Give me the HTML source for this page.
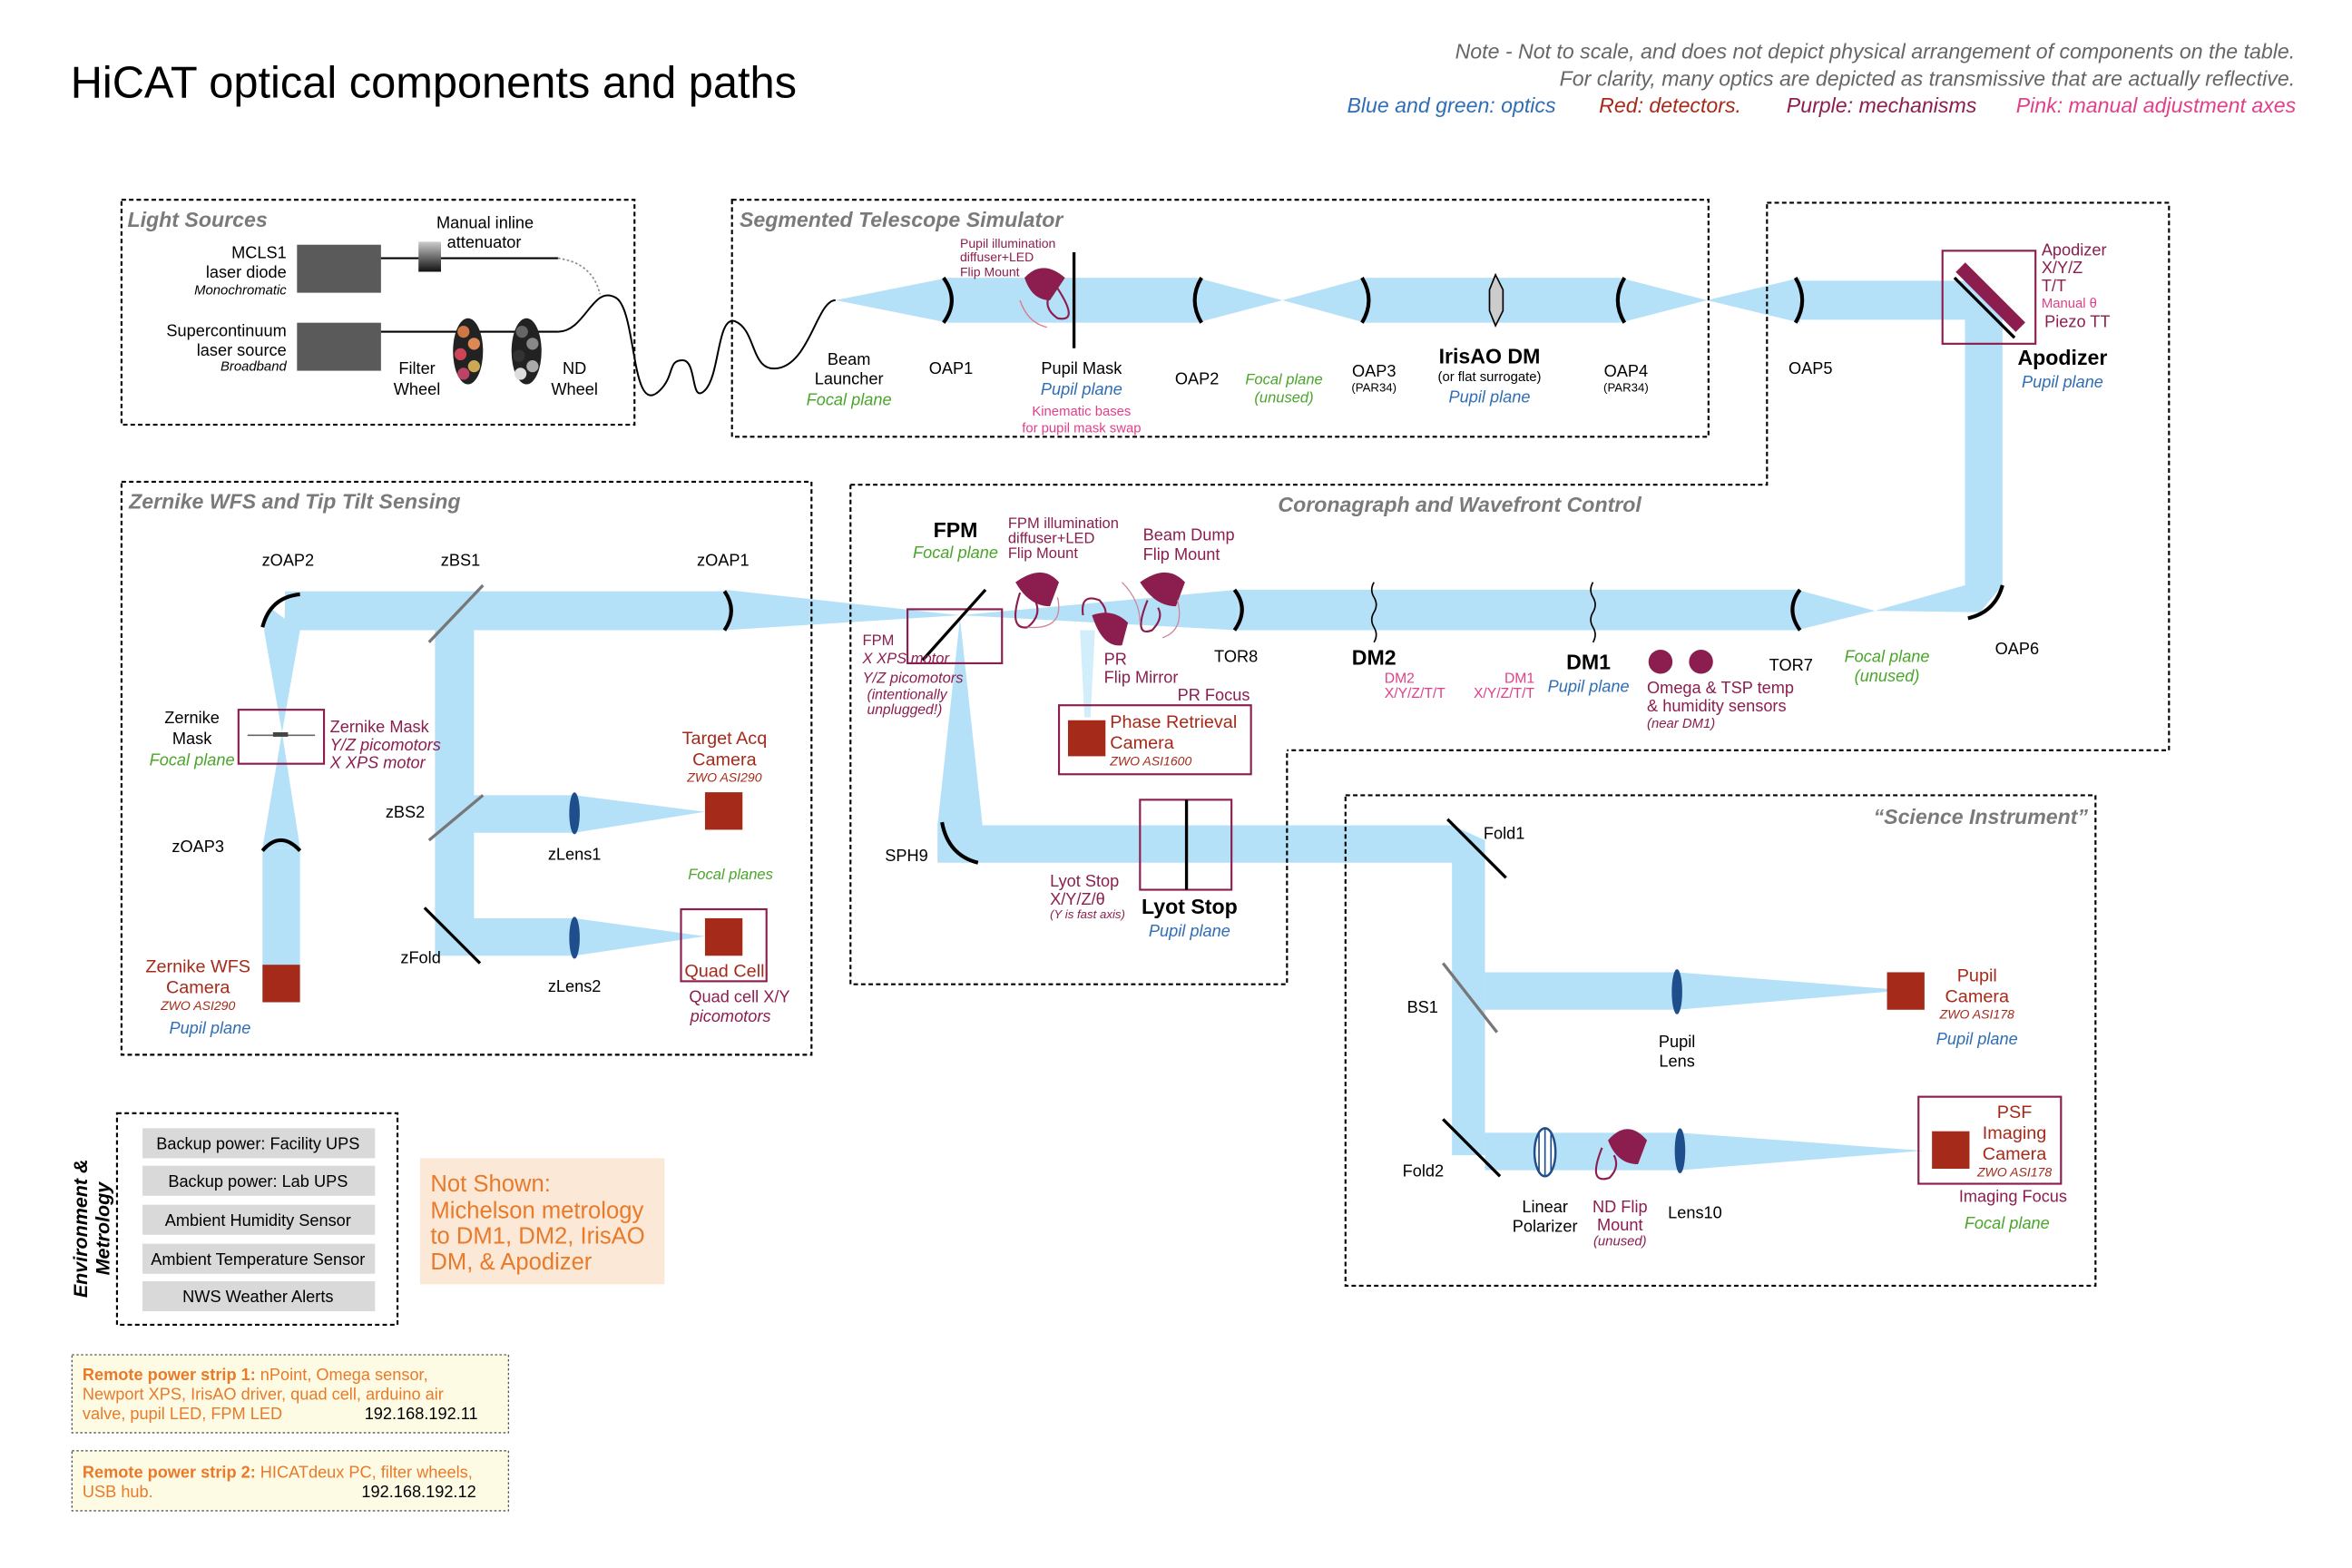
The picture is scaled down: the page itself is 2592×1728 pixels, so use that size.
<!DOCTYPE html>
<html><head><meta charset="utf-8"><style>
html,body{margin:0;padding:0;background:#fff}
svg{display:block}
text{font-family:"Liberation Sans",sans-serif;font-size:11px;fill:#000}
.it{font-style:italic}
.sec{font-style:italic;font-weight:bold;font-size:14px;fill:#7a7a7a}
.pu{fill:#8b1e4f}.rd{fill:#a52a1a}.bl{fill:#2f6db5;font-style:italic}.gr{fill:#4aa52a;font-style:italic}.pk{fill:#e0408a}
.b{font-weight:bold;font-size:14px}
.box{fill:none;stroke:#000;stroke-width:1.3;stroke-dasharray:3 2}
.beam{fill:#b5e1f8}
.m{fill:none;stroke:#000;stroke-width:2.5}
.fr{fill:none;stroke:#8b1e4f;stroke-width:1.3}
</style></head><body>
<svg width="2592" height="1728" viewBox="0 0 1568 1045" xmlns="http://www.w3.org/2000/svg">
<text x="47" y="65" style="font-size:29.5px">HiCAT optical components and paths</text>
<text x="1530" y="39" text-anchor="end" class="it" style="font-size:14px;fill:#666">Note - Not to scale, and does not depict physical arrangement of components on the table.</text>
<text x="1530" y="57" text-anchor="end" class="it" style="font-size:14px;fill:#666">For clarity, many optics are depicted as transmissive that are actually reflective.</text>
<text x="898" y="75" class="it" style="font-size:14px;fill:#2f6db5">Blue and green: optics</text>
<text x="1066" y="75" class="it" style="font-size:14px;fill:#a52a1a">Red: detectors.</text>
<text x="1191" y="75" class="it" style="font-size:14px;fill:#8b1e4f">Purple: mechanisms</text>
<text x="1344" y="75" class="it" style="font-size:14px;fill:#e0408a">Pink:  manual adjustment axes</text>

<g class="beam">
<polygon points="557,200 632,185 632,215"/>
<polygon points="632,185 798,185 798,215 632,215"/>
<polygon points="798,185 855,200 798,215"/>
<polygon points="855,200 910,185 910,215"/>
<polygon points="910,185 1080,185 1080,215 910,215"/>
<polygon points="1080,185 1138,200 1080,215"/>
<polygon points="1138,200 1200,185 1200,215"/>
<polygon points="1200,187 1322,187 1335,200 1335,390 1310,390 1310,213 1200,213"/>
<polygon points="1335,390 1320,408 1250,407 1310,390"/>
<polygon points="1250,407 1198,393 1198,420"/>
<polygon points="1198,393 825,393 825,420 1198,420"/>
<polygon points="825,393 640,410 825,420"/>
<polygon points="640,410 483,393 483,420"/>
<polygon points="483,394 190,394 190,420 483,420"/>
<polygon points="190,400 200,420 188,488"/>
<polygon points="180,405 200,420 188,488 176,420"/>
<polygon points="188,488 175,565 200,565"/>
<polygon points="175,565 200,565 200,645 175,645"/>
<polygon points="290,410 316,410 316,530 383,530 383,555 316,555 316,612 383,612 383,637 290,637"/>
<polygon points="383,530 470,541 383,555"/>
<polygon points="383,612 470,624 383,637"/>
<polygon points="640,412 655,550 625,550"/>
<polygon points="625,550 968,550 990,560 990,770 968,770 968,575 625,575"/>
<polygon points="990,648 1118,648 1118,673 990,673"/>
<polygon points="1118,648 1270,660 1118,673"/>
<polygon points="990,755 1120,755 1120,780 990,780"/>
<polygon points="1120,755 1282,767 1120,780"/>
<polygon points="720,420 730,420 727,478 723,478" style="fill:#d3eefb"/>
</g>

<rect class="box" x="81" y="133" width="342" height="150"/>
<text x="85" y="151" class="sec">Light Sources</text>
<rect class="box" x="488" y="133" width="651" height="158"/>
<text x="493" y="151" class="sec">Segmented Telescope Simulator</text>
<path class="box" d="M1178,135 H1446 V500 H858 V500 M567,323 H1178 V135"/>
<path class="box" d="M567,323 V656 H858 V500"/>
<text x="852" y="341" class="sec">Coronagraph and Wavefront Control</text>
<rect class="box" x="81" y="321" width="460" height="382"/>
<text x="86" y="339" class="sec">Zernike WFS and Tip Tilt Sensing</text>
<rect class="box" x="897" y="530" width="500" height="327"/>
<text x="1392" y="549" text-anchor="end" class="sec">“Science Instrument”</text>
<rect class="box" x="78" y="742" width="187" height="141"/>

<rect x="198" y="163" width="56" height="32" fill="#5a5a5a"/>
<rect x="198" y="215" width="56" height="32" fill="#5a5a5a"/>
<line x1="254" y1="172" x2="372" y2="172" stroke="#000" stroke-width="1.3"/>
<defs><linearGradient id="g1" x1="0" y1="0" x2="0" y2="1"><stop offset="0" stop-color="#ccc"/><stop offset="1" stop-color="#111"/></linearGradient></defs>
<rect x="279" y="161" width="15" height="20" fill="url(#g1)"/>
<path d="M372,172 Q395,175 400,196" fill="none" stroke="#888" stroke-dasharray="1.5 1.5"/>
<line x1="254" y1="221" x2="372" y2="221" stroke="#000" stroke-width="1.3"/>
<path d="M372,221 C390,221 395,190 410,198 C425,205 420,280 440,260 C450,250 445,240 455,240 C465,240 460,270 470,260 C480,250 478,210 490,214 C505,220 500,250 520,245 C540,240 545,200 557,200" fill="none" stroke="#000" stroke-width="1.2"/>
<ellipse cx="312" cy="234" rx="10" ry="22" fill="#222"/>
<circle cx="309" cy="221" r="4" fill="#c74"/><circle cx="316" cy="229" r="4" fill="#d85"/><circle cx="307" cy="236" r="4" fill="#c45"/><circle cx="316" cy="244" r="4" fill="#ca5"/><circle cx="309" cy="249" r="4" fill="#b46"/>
<ellipse cx="351" cy="234" rx="10" ry="22" fill="#222"/>
<circle cx="348" cy="221" r="4" fill="#666"/><circle cx="355" cy="229" r="4" fill="#888"/><circle cx="346" cy="237" r="4" fill="#333"/><circle cx="355" cy="244" r="4" fill="#aaa"/><circle cx="347" cy="249" r="4" fill="#ddd"/>
<text x="191" y="172" text-anchor="end">MCLS1</text><text x="191" y="185" text-anchor="end">laser diode</text><text x="191" y="196" text-anchor="end" class="it" style="font-size:9px">Monochromatic</text>
<text x="191" y="224" text-anchor="end">Supercontinuum</text><text x="191" y="237" text-anchor="end">laser source</text><text x="191" y="247" text-anchor="end" class="it" style="font-size:9px">Broadband</text>
<text x="291" y="152">Manual inline</text><text x="298" y="165">attenuator</text>
<text x="278" y="249" text-anchor="middle">Filter</text><text x="278" y="263" text-anchor="middle">Wheel</text>
<text x="383" y="249" text-anchor="middle">ND</text><text x="383" y="263" text-anchor="middle">Wheel</text>

<path class="m" d="M629,185 Q640,200 629,215"/>
<path class="m" d="M801,185 Q792,200 801,215"/>
<path class="m" d="M908,185 Q917,200 908,215"/>
<path class="m" d="M1083,185 Q1074,200 1083,215"/>
<path class="m" d="M1197,185 Q1206,200 1197,215"/>
<line x1="716" y1="168" x2="716" y2="232" stroke="#000" stroke-width="2"/>
<polygon points="997,183 1002,193 1002,207 997,217 993,207 993,193" fill="#ccc" stroke="#000"/>
<path d="M683,185 Q695,172 710,185 L700,200 Q688,200 683,185 Z" fill="#8b1e4f"/>
<path class="fr" d="M705,192 Q720,215 705,212 Q695,205 700,196"/>
<path d="M680,200 Q685,215 698,218" fill="none" stroke="#d78" stroke-width="0.8"/>
<text x="566" y="243" text-anchor="middle">Beam</text><text x="566" y="256" text-anchor="middle">Launcher</text><text x="566" y="270" text-anchor="middle" class="gr">Focal plane</text>
<text x="634" y="249" text-anchor="middle">OAP1</text>
<text x="640" y="165" class="pu" style="font-size:8.5px">Pupil illumination</text><text x="640" y="174" class="pu" style="font-size:8.5px">diffuser+LED</text><text x="640" y="184" class="pu" style="font-size:8.5px">Flip Mount</text>
<text x="721" y="249" text-anchor="middle">Pupil Mask</text><text x="721" y="263" text-anchor="middle" class="bl">Pupil plane</text>
<text x="721" y="277" text-anchor="middle" class="pk" style="font-size:9px">Kinematic bases</text><text x="721" y="288" text-anchor="middle" class="pk" style="font-size:9px">for pupil mask swap</text>
<text x="798" y="256" text-anchor="middle">OAP2</text>
<text x="856" y="256" text-anchor="middle" class="gr" style="font-size:10px">Focal plane</text><text x="856" y="268" text-anchor="middle" class="gr" style="font-size:10px">(unused)</text>
<text x="916" y="251" text-anchor="middle">OAP3</text><text x="916" y="261" text-anchor="middle" style="font-size:8px">(PAR34)</text>
<text x="993" y="242" text-anchor="middle" class="b">IrisAO DM</text><text x="993" y="254" text-anchor="middle" style="font-size:9px">(or flat surrogate)</text><text x="993" y="268" text-anchor="middle" class="bl">Pupil plane</text>
<text x="1084" y="251" text-anchor="middle">OAP4</text><text x="1084" y="261" text-anchor="middle" style="font-size:8px">(PAR34)</text>
<text x="1207" y="249" text-anchor="middle">OAP5</text>

<rect x="1295" y="167" width="62" height="62" fill="none" stroke="#8b1e4f" stroke-width="1.3"/>
<line x1="1307" y1="178" x2="1347" y2="218" stroke="#8b1e4f" stroke-width="9"/>
<line x1="1303" y1="185" x2="1343" y2="225" stroke="#000" stroke-width="2"/>
<text x="1361" y="170" class="pu">Apodizer</text><text x="1361" y="182" class="pu">X/Y/Z</text><text x="1361" y="194" class="pu">T/T</text>
<text x="1361" y="205" class="pk" style="font-size:9px">Manual θ</text><text x="1363" y="218" class="pu">Piezo TT</text>
<text x="1375" y="243" text-anchor="middle" class="b">Apodizer</text><text x="1375" y="258" text-anchor="middle" class="bl">Pupil plane</text>
<path class="m" d="M1312,412 Q1330,408 1335,390"/>
<text x="1330" y="436">OAP6</text>
<text x="1258" y="441" text-anchor="middle" class="gr">Focal plane</text><text x="1258" y="454" text-anchor="middle" class="gr">(unused)</text>
<path class="m" d="M1200,393 Q1190,406 1200,420"/>
<text x="1194" y="447" text-anchor="middle">TOR7</text>
<circle cx="1107" cy="441" r="8" fill="#8b1e4f"/><circle cx="1134" cy="441" r="8" fill="#8b1e4f"/>
<text x="1098" y="462" class="pu">Omega &amp; TSP temp</text><text x="1098" y="474" class="pu">&amp; humidity sensors</text><text x="1098" y="485" class="pu it" style="font-size:9px">(near DM1)</text>
<path d="M1062,388 q-3,5 0,10 q3,5 0,10 q-3,5 0,10 q3,5 0,10" fill="none" stroke="#000"/>
<path d="M916,388 q-3,5 0,10 q3,5 0,10 q-3,5 0,10 q3,5 0,10" fill="none" stroke="#000"/>
<text x="1059" y="446" text-anchor="middle" class="b">DM1</text><text x="1059" y="461" text-anchor="middle" class="bl">Pupil plane</text>
<text x="1023" y="455" text-anchor="end" class="pk" style="font-size:9.5px">DM1</text><text x="1023" y="465" text-anchor="end" class="pk" style="font-size:9.5px">X/Y/Z/T/T</text>
<text x="916" y="443" text-anchor="middle" class="b">DM2</text>
<text x="923" y="455" class="pk" style="font-size:9.5px">DM2</text><text x="923" y="465" class="pk" style="font-size:9.5px">X/Y/Z/T/T</text>
<path class="m" d="M823,393 Q833,406 823,420"/>
<text x="824" y="441" text-anchor="middle">TOR8</text>

<rect x="605" y="406" width="63" height="36" fill="none" stroke="#8b1e4f" stroke-width="1.3"/>
<line x1="615" y1="440" x2="657" y2="393" stroke="#000" stroke-width="2"/>
<text x="637" y="358" text-anchor="middle" class="b">FPM</text><text x="637" y="372" text-anchor="middle" class="gr">Focal plane</text>
<text x="672" y="352" class="pu" style="font-size:10px">FPM illumination</text><text x="672" y="362" class="pu" style="font-size:10px">diffuser+LED</text><text x="672" y="372" class="pu" style="font-size:10px">Flip Mount</text>
<text x="762" y="360" class="pu">Beam Dump</text><text x="762" y="373" class="pu">Flip Mount</text>
<path d="M677,388 Q695,375 706,388 L700,404 Q686,404 677,388Z" fill="#8b1e4f"/>
<path class="fr" d="M680,395 Q672,420 685,418 Q695,410 690,400"/>
<path d="M760,388 Q778,375 790,388 L784,404 Q770,404 760,388Z" fill="#8b1e4f"/>
<path class="fr" d="M765,400 Q755,425 768,420 Q776,412 772,405"/>
<path d="M728,410 Q742,405 752,415 L748,430 Q735,432 728,410Z" fill="#8b1e4f"/>
<path class="fr" d="M722,410 Q720,395 733,400 Q740,408 735,412"/>
<path d="M685,418 Q710,420 705,398 M748,388 Q760,400 760,415 M785,400 Q790,420 775,425" fill="none" stroke="#c89" stroke-width="0.8"/>
<text x="575" y="430" class="pu" style="font-size:10px">FPM</text><text x="575" y="442" class="pu it" style="font-size:10px">X XPS motor</text>
<text x="575" y="455" class="pu it" style="font-size:10px">Y/Z picomotors</text><text x="578" y="466" class="pu it" style="font-size:9.5px">(intentionally</text><text x="578" y="476" class="pu it" style="font-size:9.5px">unplugged!)</text>
<text x="736" y="443" class="pu">PR</text><text x="736" y="455" class="pu">Flip Mirror</text>
<text x="785" y="467" class="pu">PR Focus</text>
<rect x="706" y="470" width="128" height="46" fill="none" stroke="#8b1e4f" stroke-width="1.3"/>
<rect x="712" y="480" width="25" height="24" fill="#a52a1a"/>
<text x="740" y="485" class="rd" style="font-size:12px">Phase Retrieval</text><text x="740" y="499" class="rd" style="font-size:12px">Camera</text><text x="740" y="510" class="rd it" style="font-size:8.5px">ZWO ASI1600</text>
<path class="m" d="M628,548 Q632,570 652,575"/>
<text x="590" y="574">SPH9</text>
<rect x="760" y="533" width="61" height="60" fill="none" stroke="#8b1e4f" stroke-width="1.3"/>
<line x1="791" y1="533" x2="791" y2="593" stroke="#000" stroke-width="2"/>
<text x="700" y="591" class="pu">Lyot Stop</text><text x="700" y="603" class="pu">X/Y/Z/θ</text><text x="700" y="612" class="pu it" style="font-size:8px">(Y is fast axis)</text>
<text x="793" y="609" text-anchor="middle" class="b">Lyot Stop</text><text x="793" y="624" text-anchor="middle" class="bl">Pupil plane</text>

<path class="m" d="M175,418 Q180,398 200,396"/>
<path class="m" d="M175,567 Q187,553 200,567"/>
<path class="m" d="M483,394 Q492,407 483,420"/>
<line x1="286" y1="428" x2="322" y2="390" stroke="#777" stroke-width="2"/>
<line x1="286" y1="560" x2="322" y2="530" stroke="#777" stroke-width="2"/>
<line x1="283" y1="605" x2="320" y2="642" stroke="#000" stroke-width="2"/>
<rect x="159" y="473" width="57" height="36" fill="none" stroke="#8b1e4f" stroke-width="1.3"/>
<line x1="165" y1="490" x2="210" y2="490" stroke="#666" stroke-width="1"/>
<rect x="182" y="488" width="10" height="3" fill="#444"/>
<rect x="175" y="643" width="25" height="25" fill="#a52a1a"/>
<ellipse cx="383" cy="542" rx="3.5" ry="14" fill="#1f4e8c"/>
<ellipse cx="383" cy="625" rx="3.5" ry="14" fill="#1f4e8c"/>
<rect x="470" y="528" width="25" height="25" fill="#a52a1a"/>
<rect x="454" y="606" width="57" height="48" fill="none" stroke="#8b1e4f" stroke-width="1.3"/>
<rect x="470" y="612" width="25" height="25" fill="#a52a1a"/>
<text x="192" y="377" text-anchor="middle">zOAP2</text><text x="307" y="377" text-anchor="middle">zBS1</text><text x="482" y="377" text-anchor="middle">zOAP1</text>
<text x="128" y="482" text-anchor="middle">Zernike</text><text x="128" y="496" text-anchor="middle">Mask</text><text x="128" y="510" text-anchor="middle" class="gr">Focal plane</text>
<text x="220" y="488" class="pu">Zernike Mask</text><text x="220" y="500" class="pu it">Y/Z picomotors</text><text x="220" y="512" class="pu it">X   XPS motor</text>
<text x="132" y="568" text-anchor="middle">zOAP3</text>
<text x="132" y="648" text-anchor="middle" class="rd" style="font-size:12px">Zernike WFS</text><text x="132" y="662" text-anchor="middle" class="rd" style="font-size:12px">Camera</text>
<text x="132" y="673" text-anchor="middle" class="rd it" style="font-size:8.5px">ZWO ASI290</text><text x="140" y="689" text-anchor="middle" class="bl">Pupil plane</text>
<text x="257" y="545">zBS2</text><text x="267" y="642">zFold</text>
<text x="383" y="573" text-anchor="middle">zLens1</text><text x="383" y="661" text-anchor="middle">zLens2</text>
<text x="483" y="496" text-anchor="middle" class="rd" style="font-size:12px">Target Acq</text><text x="483" y="510" text-anchor="middle" class="rd" style="font-size:12px">Camera</text><text x="483" y="521" text-anchor="middle" class="rd it" style="font-size:8.5px">ZWO ASI290</text>
<text x="487" y="586" text-anchor="middle" class="gr" style="font-size:10px">Focal planes</text>
<text x="483" y="651" text-anchor="middle" class="rd" style="font-size:12px">Quad Cell</text>
<text x="493" y="668" text-anchor="middle" class="pu">Quad cell X/Y</text><text x="487" y="681" text-anchor="middle" class="pu it">picomotors</text>

<line x1="965" y1="546" x2="1004" y2="585" stroke="#000" stroke-width="2"/>
<line x1="962" y1="642" x2="998" y2="688" stroke="#777" stroke-width="2"/>
<line x1="962" y1="746" x2="1000" y2="784" stroke="#000" stroke-width="2"/>
<text x="989" y="559">Fold1</text><text x="938" y="675">BS1</text><text x="935" y="784">Fold2</text>
<ellipse cx="1118" cy="661" rx="3.5" ry="15" fill="#1f4e8c"/>
<text x="1118" y="698" text-anchor="middle">Pupil</text><text x="1118" y="711" text-anchor="middle">Lens</text>
<rect x="1258" y="648" width="25" height="25" fill="#a52a1a"/>
<text x="1318" y="654" text-anchor="middle" class="rd" style="font-size:12px">Pupil</text><text x="1318" y="668" text-anchor="middle" class="rd" style="font-size:12px">Camera</text>
<text x="1318" y="679" text-anchor="middle" class="rd it" style="font-size:8.5px">ZWO ASI178</text><text x="1318" y="696" text-anchor="middle" class="bl">Pupil plane</text>
<ellipse cx="1030" cy="768" rx="7" ry="16" fill="#fff" stroke="#1f4e8c" stroke-width="1.5"/>
<line x1="1026" y1="754" x2="1026" y2="782" stroke="#1f4e8c"/><line x1="1030" y1="752" x2="1030" y2="784" stroke="#1f4e8c"/><line x1="1034" y1="754" x2="1034" y2="782" stroke="#1f4e8c"/>
<text x="1030" y="808" text-anchor="middle">Linear</text><text x="1030" y="821" text-anchor="middle">Polarizer</text>
<path d="M1072,760 Q1085,745 1098,760 L1092,776 Q1078,776 1072,760Z" fill="#8b1e4f"/>
<path class="fr" d="M1068,765 Q1058,790 1073,785 Q1080,778 1076,770"/>
<text x="1080" y="808" text-anchor="middle" class="pu">ND Flip</text><text x="1080" y="820" text-anchor="middle" class="pu">Mount</text><text x="1080" y="830" text-anchor="middle" class="pu it" style="font-size:9px">(unused)</text>
<ellipse cx="1120" cy="767" rx="3.5" ry="15" fill="#1f4e8c"/>
<text x="1130" y="812" text-anchor="middle">Lens10</text>
<rect x="1279" y="731" width="95" height="58" fill="none" stroke="#8b1e4f" stroke-width="1.3"/>
<rect x="1288" y="754" width="25" height="25" fill="#a52a1a"/>
<text x="1343" y="745" text-anchor="middle" class="rd" style="font-size:12px">PSF</text><text x="1343" y="759" text-anchor="middle" class="rd" style="font-size:12px">Imaging</text><text x="1343" y="773" text-anchor="middle" class="rd" style="font-size:12px">Camera</text>
<text x="1343" y="784" text-anchor="middle" class="rd it" style="font-size:8.5px">ZWO ASI178</text>
<text x="1342" y="801" text-anchor="middle" class="pu">Imaging Focus</text><text x="1338" y="819" text-anchor="middle" class="gr">Focal plane</text>

<g style="fill:#d9d9d9">
<rect x="95" y="752" width="155" height="20"/><rect x="95" y="777" width="155" height="20"/><rect x="95" y="803" width="155" height="20"/><rect x="95" y="829" width="155" height="20"/><rect x="95" y="854" width="155" height="20"/>
</g>
<text x="172" y="766" text-anchor="middle">Backup power: Facility UPS</text>
<text x="172" y="791" text-anchor="middle">Backup power: Lab UPS</text>
<text x="172" y="817" text-anchor="middle">Ambient Humidity Sensor</text>
<text x="172" y="843" text-anchor="middle">Ambient Temperature Sensor</text>
<text x="172" y="868" text-anchor="middle">NWS Weather Alerts</text>
<text transform="translate(58,865) rotate(-90)" style="font-weight:bold;font-style:italic;font-size:13px">Environment &amp;</text>
<text transform="translate(73,850) rotate(-90)" style="font-weight:bold;font-style:italic;font-size:13px">Metrology</text>
<rect x="280" y="772" width="163" height="84" fill="#fce8d6"/>
<text x="287" y="794" style="font-size:15.5px;fill:#e87a2a">Not Shown:</text><text x="287" y="812" style="font-size:15.5px;fill:#e87a2a">Michelson metrology</text><text x="287" y="829" style="font-size:15.5px;fill:#e87a2a">to DM1, DM2, IrisAO</text><text x="287" y="846" style="font-size:15.5px;fill:#e87a2a">DM, &amp; Apodizer</text>
<rect x="48" y="903" width="291" height="52" fill="#fefbe5" stroke="#555" stroke-width="0.8" stroke-dasharray="1.5 1.5"/>
<text x="55" y="920" style="fill:#e87a2a"><tspan style="font-weight:bold;fill:#e87a2a">Remote power strip 1: </tspan>nPoint, Omega sensor,</text>
<text x="55" y="933" style="fill:#e87a2a">Newport XPS, IrisAO driver, quad cell, arduino air</text>
<text x="55" y="946" style="fill:#e87a2a">valve, pupil LED, FPM LED</text><text x="243" y="946">192.168.192.11</text>
<rect x="48" y="967" width="291" height="40" fill="#fefbe5" stroke="#555" stroke-width="0.8" stroke-dasharray="1.5 1.5"/>
<text x="55" y="985" style="fill:#e87a2a"><tspan style="font-weight:bold;fill:#e87a2a">Remote power strip 2: </tspan>HICATdeux PC, filter wheels,</text>
<text x="55" y="998" style="fill:#e87a2a">USB hub.</text><text x="241" y="998">192.168.192.12</text>
</svg>
</body></html>
